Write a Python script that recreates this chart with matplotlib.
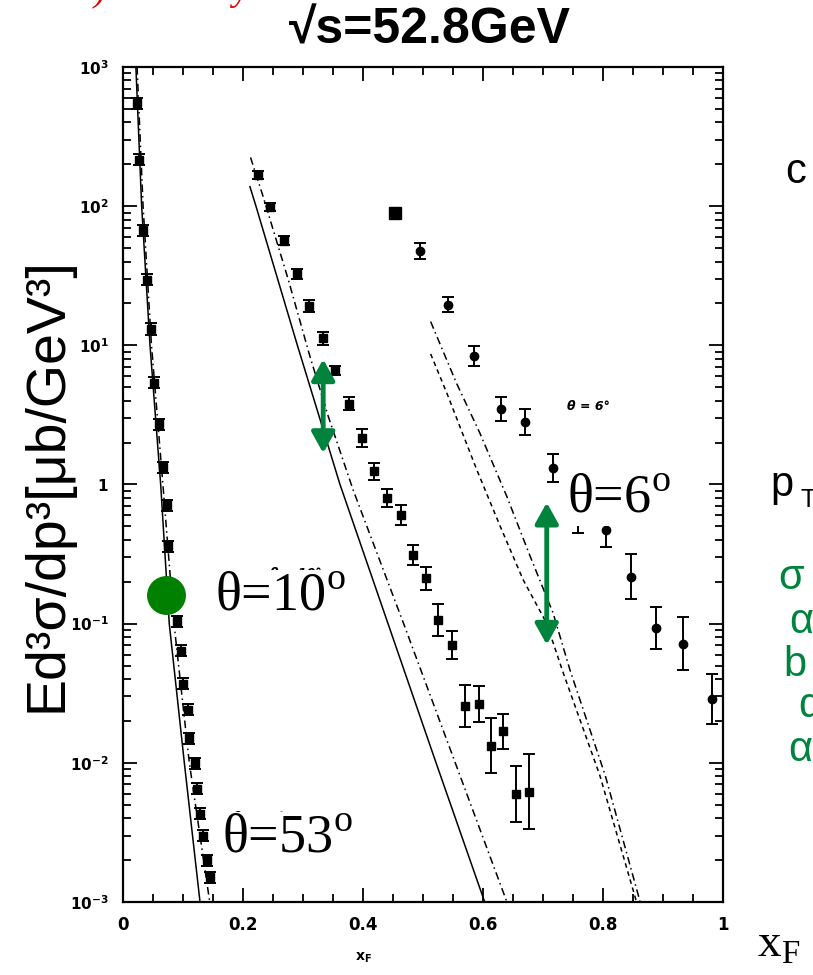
import numpy as np
import matplotlib.pyplot as plt
from matplotlib.ticker import MultipleLocator, LogLocator, NullFormatter

plt.rcParams['mathtext.fontset'] = 'custom'
plt.rcParams['mathtext.rm'] = 'Liberation Serif'
plt.rcParams['mathtext.bf'] = 'DejaVu Sans:bold'

# theta = 53 deg data (x_F, invariant cross section) and error size in decades
x53 = [0.024, 0.028, 0.034, 0.041, 0.047, 0.053, 0.060, 0.067, 0.073, 0.076, 0.082,
       0.090, 0.097, 0.101, 0.109, 0.111, 0.120, 0.123, 0.128, 0.133, 0.140, 0.145]
y53 = [548, 215, 67, 29.5, 13.1, 5.4, 2.7, 1.33, 0.71, 0.36, 0.175,
       0.104, 0.064, 0.037, 0.024, 0.015, 0.0099, 0.0065, 0.0043, 0.0030, 0.0020, 0.0015]
e53 = [0.04] * len(x53)

# theta = 10 deg
x10 = [0.225, 0.245, 0.269, 0.290, 0.310, 0.333, 0.354, 0.377, 0.398, 0.419, 0.441,
       0.463, 0.484, 0.506, 0.526, 0.548, 0.570, 0.594, 0.614, 0.634, 0.656, 0.677]
y10 = [168, 99, 56.5, 32.6, 19.3, 11.2, 6.6, 3.8, 2.17, 1.24, 0.80,
       0.605, 0.312, 0.212, 0.106, 0.0705, 0.0257, 0.0265, 0.0133, 0.0168, 0.0060, 0.0062]
e10 = [0.03, 0.03, 0.03, 0.035, 0.043, 0.048, 0.03, 0.048, 0.065, 0.062, 0.068,
       0.072, 0.072, 0.084, 0.115, 0.10, 0.15, 0.13, 0.20, 0.125, 0.20, 0.27]

# theta = 6 deg
x6 = [0.454, 0.496, 0.542, 0.585, 0.630, 0.671, 0.716, 0.759, 0.805, 0.847, 0.888, 0.933, 0.982]
y6 = [88.9, 47.6, 19.5, 8.44, 3.49, 2.80, 1.31, 0.587, 0.472, 0.218, 0.0927, 0.0716, 0.0288]
e6 = [0.0, 0.056, 0.054, 0.072, 0.086, 0.092, 0.10, 0.114, 0.122, 0.16, 0.15, 0.19, 0.18]

# model curves
c53_solid_x = [0.022, 0.0316, 0.0455, 0.0633, 0.0776, 0.1027, 0.1288]
c53_solid_y = [1000, 100, 10, 1, 0.1, 0.01, 0.001]
c53_dash_x = [0.024, 0.034, 0.048, 0.067, 0.0855, 0.111, 0.145]
c53_dash_y = [1000, 100, 10, 1, 0.1, 0.01, 0.001]

c10_solid_x = [0.212, 0.222, 0.291, 0.362, 0.442, 0.522, 0.603]
c10_solid_y = [138, 100, 10, 1, 0.1, 0.01, 0.001]
c10_dash_x = [0.213, 0.234, 0.276, 0.312, 0.3425, 0.384, 0.468, 0.554, 0.640]
c10_dash_y = [224, 117, 29.5, 8.3, 3.08, 0.91, 0.1, 0.01, 0.001]

c6_a_x = [0.513, 0.556, 0.595, 0.640, 0.679, 0.717, 0.745, 0.804, 0.862]
c6_a_y = [14.8, 5.35, 2.34, 0.818, 0.303, 0.119, 0.0466, 0.00807, 0.001]
c6_b_x = [0.513, 0.540, 0.590, 0.629, 0.667, 0.706, 0.734, 0.795, 0.856]
c6_b_y = [8.67, 4.53, 1.27, 0.499, 0.207, 0.101, 0.0441, 0.00807, 0.001]

ytick_vals = [1e-3, 1e-2, 1e-1, 1, 1e1, 1e2, 1e3]
ytick_text = [r'$\mathbf{10^{-3}}$', r'$\mathbf{10^{-2}}$', r'$\mathbf{10^{-1}}$', r'$\mathbf{1}$',
              r'$\mathbf{10^{1}}$', r'$\mathbf{10^{2}}$', r'$\mathbf{10^{3}}$']
xtick_vals = [0, 0.2, 0.4, 0.6, 0.8, 1.0]
xtick_text = ['0', '0.2', '0.4', '0.6', '0.8', '1']

green = '#00843d'

fig = plt.figure(figsize=(8.13, 9.75), dpi=100)
ax = fig.add_axes([0.1509, 0.0749, 0.7384, 0.8564])
ax.set_yscale('log')
ax.set_xlim(0, 1)
ax.set_ylim(1e-3, 1e3)

dashdot = (0, (5, 2.5, 1, 2.5))
dashed = (0, (3, 2.5))
ax.plot(c53_solid_x, c53_solid_y, color='k', lw=1.1)
ax.plot(c53_dash_x, c53_dash_y, color='k', lw=1.1, ls=dashdot)
ax.plot(c10_solid_x, c10_solid_y, color='k', lw=1.1)
ax.plot(c10_dash_x, c10_dash_y, color='k', lw=1.1, ls=dashdot)
ax.plot(c6_a_x, c6_a_y, color='k', lw=1.1, ls=dashdot)
ax.plot(c6_b_x, c6_b_y, color='k', lw=1.1, ls=dashed)


def draw_points(xs, ys, es, marker, ms=6):
    ys = np.array(ys)
    es = np.array(es)
    lo = ys - ys * 10 ** (-es)
    hi = ys * 10 ** es - ys
    ax.errorbar(xs, ys, yerr=[lo, hi], fmt=marker, ms=ms, color='k',
                elinewidth=1.4, capsize=4, capthick=1.4)


draw_points(x53, y53, e53, 's')
draw_points(x10, y10, e10, 's')
draw_points(x6[:1], y6[:1], e6[:1], 's', ms=8)
draw_points(x6[1:], y6[1:], e6[1:], 'o')

# axis styling
ax.xaxis.set_major_locator(MultipleLocator(0.2))
ax.xaxis.set_minor_locator(MultipleLocator(0.05))
ax.set_xticks(xtick_vals)
ax.set_xticklabels(xtick_text, fontsize=12, fontweight='bold')
ax.set_yticks(ytick_vals)
ax.set_yticklabels(ytick_text, fontsize=11)
ax.yaxis.set_minor_locator(LogLocator(base=10, subs=np.arange(2, 10), numticks=30))
ax.yaxis.set_minor_formatter(NullFormatter())
ax.tick_params(which='both', direction='in', top=True, right=True, width=1.3)
ax.tick_params(which='major', length=10, pad=10)
ax.tick_params(which='minor', length=6)
for s in ax.spines.values():
    s.set_linewidth(1.6)

# original small angle labels
small = dict(fontsize=9, fontweight='bold', style='italic', color='k', zorder=3)
ax.text(0.245, 0.217, 'θ = 10°', **small)
ax.text(0.183, 0.0038, 'θ = 53°', **small)
ax.text(0.740, 3.43, 'θ = 6°', **small)

# highlights
ax.plot(0.0721, 0.161, 'o', ms=27, color='#008000', zorder=6)
arrow = dict(arrowstyle='<|-|>,head_length=0.9,head_width=0.5', color=green, lw=3.5,
             mutation_scale=14, shrinkA=0, shrinkB=0)
ax.annotate('', xy=(0.334, 1.68), xytext=(0.334, 7.94), arrowprops=arrow, zorder=6)
ax.annotate('', xy=(0.7064, 0.0705), xytext=(0.7064, 0.741), arrowprops=arrow, zorder=6)

big = dict(fontsize=39, family='Liberation Serif', color='k', va='baseline', zorder=7,
           bbox=dict(fc='white', ec='none', pad=1))
ax.text(0.154, 0.1256, r'θ=10$^{\mathrm{o}}$', **big)
ax.text(0.740, 0.635, r'θ=6$^{\mathrm{o}}$', **big)
ax.text(0.1654, 0.0023, r'θ=53$^{\mathrm{o}}$', **big)

# titles and labels
fig.text(0.529, 1 - 31 / 975, '√s=52.8GeV', ha='center', va='center', fontsize=36,
         fontweight='bold', family=['Liberation Sans', 'DejaVu Sans'])
fig.text(0.058, 0.5026, 'Ed³σ/dp³[μb/GeV³]', rotation=90, ha='center', va='center',
         fontsize=40, family=['Liberation Sans', 'DejaVu Sans'],
         bbox=dict(fc='white', ec='none', pad=0))
fig.text(0.4465, 0.0174, r'x$_{\mathbf{F}}$', ha='center', va='center', fontsize=10,
         fontweight='bold')

# slide text running off the right edge
sans = ['Liberation Sans', 'DejaVu Sans']
fig.text(0.9656, 1 - 172 / 975, 'c', fontsize=30, family=sans, va='center')
fig.text(0.947, 1 - 485 / 975, 'p', fontsize=30, family=sans, va='center')
fig.text(0.985, 1 - 500 / 975, 'T', fontsize=18, family=sans, va='center')
fig.text(0.957, 1 - 578 / 975, 'σ', fontsize=30, family=sans, va='center', color=green)
fig.text(0.971, 1 - 622 / 975, 'α', fontsize=30, family=sans, va='center', color=green)
fig.text(0.964, 1 - 665 / 975, 'b', fontsize=30, family=sans, va='center', color=green)
fig.text(0.982, 1 - 706 / 975, 'α', fontsize=30, family=sans, va='center', color=green)
fig.text(0.969, 1 - 750 / 975, 'α', fontsize=30, family=sans, va='center', color=green)
fig.text(0.931, 1 - 945 / 975, r'x$_{\mathrm{F}}$', fontsize=34, family='Liberation Serif',
         va='center')

# red heading cut off at the top edge
fig.text(0.115, 1.0, ')', fontsize=26, family='Liberation Serif', style='italic',
         color='#e00000', va='baseline')
fig.text(0.285, 1.0, 'y', fontsize=26, family='Liberation Serif', style='italic',
         color='#e00000', va='baseline')

fig.savefig('out.png', dpi=100)
